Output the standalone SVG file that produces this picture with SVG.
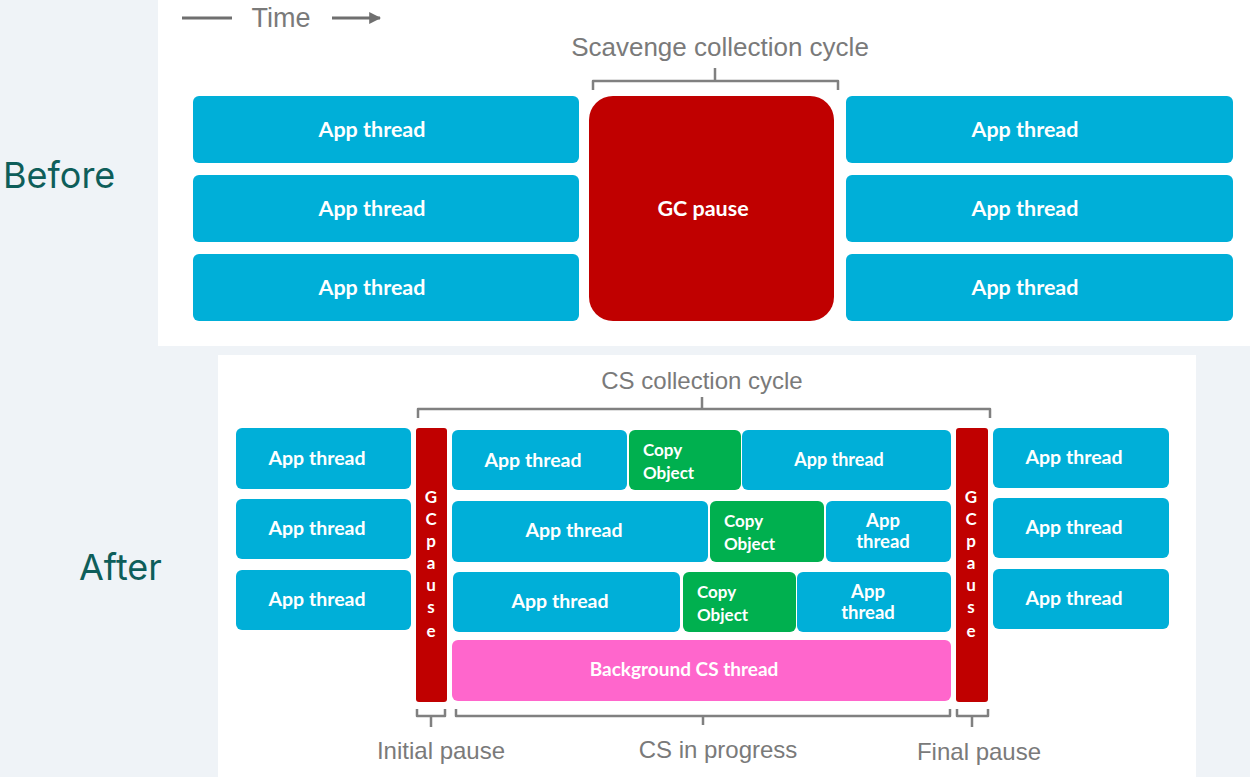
<svg xmlns="http://www.w3.org/2000/svg" width="1250" height="777" viewBox="0 0 1250 777">
  <defs>
    <style>
      .app { fill: #00afd8; }
      .gc { fill: #c00000; }
      .copy { fill: #00b04f; }
      .bg { fill: #ff66cc; }
      .lbl { font-family: Lato, "Open Sans", sans-serif; font-weight: 700; fill: #ffffff; text-anchor: middle; }
      .start { text-anchor: start; }
      .big { font-size: 21.5px; }
      .mid { font-size: 19.5px; }
      .small { font-size: 17px; }
      .note { font-family: "Liberation Sans", Arial, sans-serif; fill: #7a7a7a; text-anchor: middle; }
      .side { font-family: Inter, "Noto Sans", sans-serif; font-size: 36px; fill: #0e5e5a; }
      .brace { fill: none; stroke: #808080; stroke-width: 2.5; stroke-linejoin: round; }
    </style>
    <marker id="arrow" viewBox="0 0 10 10" refX="9" refY="5" markerWidth="4" markerHeight="4" orient="auto">
      <path d="M0,0 L10,5 L0,10 Z" fill="#6f6f6f"/>
    </marker>
  </defs>

  <!-- page background and panels -->
  <rect x="0" y="0" width="1250" height="777" fill="#eff3f7"/>
  <rect x="158" y="0" width="1092" height="346" fill="#ffffff"/>
  <rect x="218" y="355" width="978" height="422" fill="#ffffff"/>

  <!-- side captions -->
  <text class="side" x="3" y="188">Before</text>
  <text class="side" x="79" y="580">After</text>

  <!-- time legend -->
  <g id="time-legend">
    <line x1="182" y1="18" x2="232" y2="18" stroke="#6f6f6f" stroke-width="3"/>
    <text class="note" x="281" y="27" font-size="27">Time</text>
    <line x1="332" y1="18" x2="380" y2="18" stroke="#6f6f6f" stroke-width="3" marker-end="url(#arrow)"/>
  </g>

  <!-- Before: scavenge cycle -->
  <g id="before-left">
    <g id="b-l1"><rect class="app" x="193" y="96" width="386" height="67" rx="6"/><text class="lbl big" x="372" y="137">App thread</text></g>
    <g id="b-l2"><rect class="app" x="193" y="175" width="386" height="67" rx="6"/><text class="lbl big" x="372" y="216">App thread</text></g>
    <g id="b-l3"><rect class="app" x="193" y="254" width="386" height="67" rx="6"/><text class="lbl big" x="372" y="295">App thread</text></g>
  </g>
  <g id="before-gc">
    <rect class="gc" x="589" y="96" width="245" height="225" rx="24"/>
    <text class="lbl big" x="703" y="216">GC pause</text>
  </g>
  <g id="before-right">
    <g id="b-r1"><rect class="app" x="846" y="96" width="387" height="67" rx="6"/><text class="lbl big" x="1025" y="137">App thread</text></g>
    <g id="b-r2"><rect class="app" x="846" y="175" width="387" height="67" rx="6"/><text class="lbl big" x="1025" y="216">App thread</text></g>
    <g id="b-r3"><rect class="app" x="846" y="254" width="387" height="67" rx="6"/><text class="lbl big" x="1025" y="295">App thread</text></g>
  </g>
  <g id="scavenge-label">
    <text class="note" x="720" y="56" font-size="26">Scavenge collection cycle</text>
  </g>

  <!-- After: concurrent scavenge cycle -->
  <g id="after-left">
    <g id="a-l1"><rect class="app" x="236" y="428" width="175" height="61" rx="6"/><text class="lbl mid" x="317" y="465">App thread</text></g>
    <g id="a-l2"><rect class="app" x="236" y="499" width="175" height="60" rx="6"/><text class="lbl mid" x="317" y="535">App thread</text></g>
    <g id="a-l3"><rect class="app" x="236" y="570" width="175" height="60" rx="6"/><text class="lbl mid" x="317" y="606">App thread</text></g>
  </g>

  <g id="gc-initial">
    <rect class="gc" x="416" y="428" width="31" height="274" rx="3"/>
    <text class="lbl small" x="431" y="503">G</text>
    <text class="lbl small" x="431" y="525">C</text>
    <text class="lbl small" x="431" y="547">p</text>
    <text class="lbl small" x="431" y="569">a</text>
    <text class="lbl small" x="431" y="591">u</text>
    <text class="lbl small" x="431" y="613">s</text>
    <text class="lbl small" x="431" y="637">e</text>
  </g>

  <g id="cs-row1">
    <rect class="app" x="452" y="430" width="175" height="60" rx="6"/><text class="lbl mid" x="533" y="467">App thread</text>
    <rect class="copy" x="629" y="430" width="112" height="60" rx="6"/><text class="lbl small start" x="643" y="456">Copy</text><text class="lbl small start" x="643" y="479">Object</text>
    <rect class="app" x="742" y="430" width="209" height="60" rx="6"/><text class="lbl" x="839" y="466" font-size="18">App thread</text>
  </g>
  <g id="cs-row2">
    <rect class="app" x="452" y="501" width="256" height="61" rx="6"/><text class="lbl mid" x="574" y="537">App thread</text>
    <rect class="copy" x="710" y="501" width="114" height="61" rx="6"/><text class="lbl small start" x="724" y="527">Copy</text><text class="lbl small start" x="724" y="550">Object</text>
    <rect class="app" x="826" y="501" width="125" height="61" rx="6"/><text class="lbl" x="883" y="527" font-size="18.5">App</text><text class="lbl" x="883" y="548" font-size="18.5">thread</text>
  </g>
  <g id="cs-row3">
    <rect class="app" x="453" y="572" width="227" height="60" rx="6"/><text class="lbl mid" x="560" y="608">App thread</text>
    <rect class="copy" x="683" y="572" width="113" height="60" rx="6"/><text class="lbl small start" x="697" y="598">Copy</text><text class="lbl small start" x="697" y="621">Object</text>
    <rect class="app" x="797" y="572" width="154" height="60" rx="6"/><text class="lbl" x="868" y="598" font-size="18.5">App</text><text class="lbl" x="868" y="619" font-size="18.5">thread</text>
  </g>
  <g id="cs-background">
    <rect class="bg" x="452" y="640" width="499" height="61" rx="6"/>
    <text class="lbl" x="684" y="676" font-size="19">Background CS thread</text>
  </g>

  <g id="gc-final">
    <rect class="gc" x="956" y="428" width="32" height="274" rx="3"/>
    <text class="lbl small" x="971" y="503">G</text>
    <text class="lbl small" x="971" y="525">C</text>
    <text class="lbl small" x="971" y="547">p</text>
    <text class="lbl small" x="971" y="569">a</text>
    <text class="lbl small" x="971" y="591">u</text>
    <text class="lbl small" x="971" y="613">s</text>
    <text class="lbl small" x="971" y="637">e</text>
  </g>

  <g id="after-right">
    <g id="a-r1"><rect class="app" x="993" y="428" width="176" height="60" rx="6"/><text class="lbl mid" x="1074" y="464">App thread</text></g>
    <g id="a-r2"><rect class="app" x="993" y="498" width="176" height="60" rx="6"/><text class="lbl mid" x="1074" y="534">App thread</text></g>
    <g id="a-r3"><rect class="app" x="993" y="569" width="176" height="60" rx="6"/><text class="lbl mid" x="1074" y="605">App thread</text></g>
  </g>

  <g id="cs-labels">
    <text class="note" x="702" y="389" font-size="24">CS collection cycle</text>
    <text class="note" x="441" y="759" font-size="24">Initial pause</text>
    <text class="note" x="718" y="758" font-size="24">CS in progress</text>
    <text class="note" x="979" y="760" font-size="24">Final pause</text>
  </g>

  <!-- span braces -->
  <g id="connectors">
    <path class="brace" d="M593,90 V81 H838 V90 M715,81 V68"/>
    <path class="brace" d="M418,418 V409 H990 V418 M702,409 V397"/>
    <path class="brace" d="M417,709 V716 H445 V709 M431,716 V727"/>
    <path class="brace" d="M456,709 V716 H950 V709 M703,716 V725"/>
    <path class="brace" d="M957,709 V716 H988 V709 M972,716 V727"/>
  </g>
</svg>
